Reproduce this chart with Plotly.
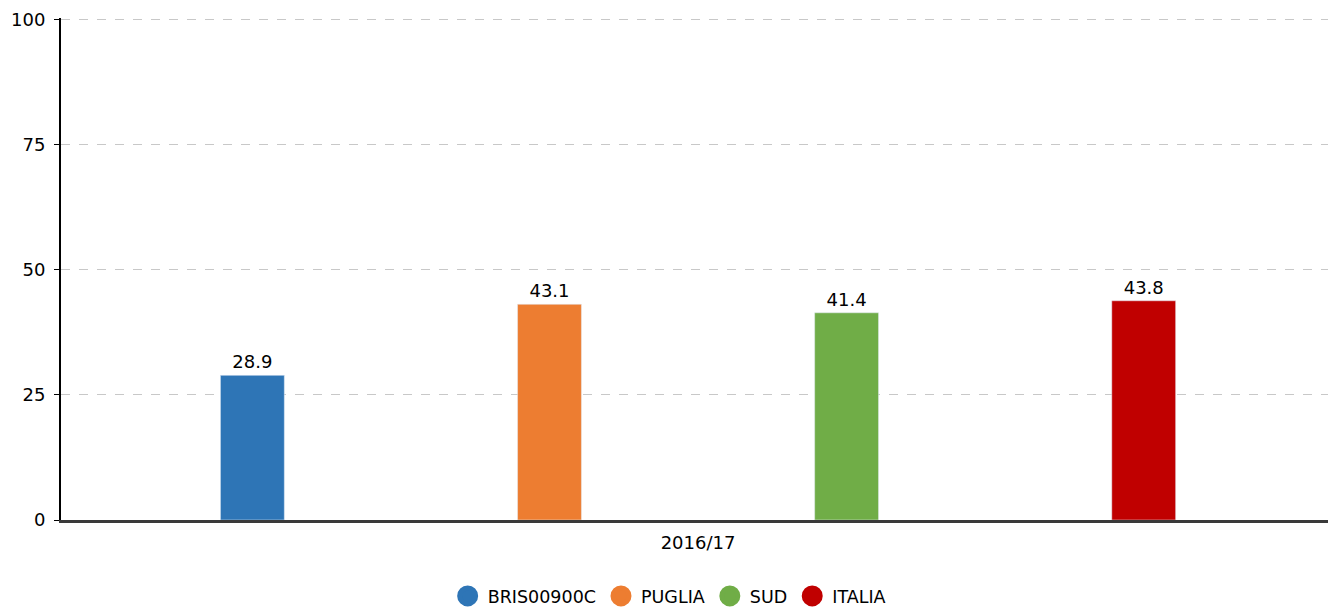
import plotly.graph_objects as go

categories = ["2016/17"]
series_names = ["BRIS00900C", "PUGLIA", "SUD", "ITALIA"]
series_values = [[28.9], [43.1], [41.4], [43.8]]
series_colors = ["#2e75b6", "#ed7d31", "#70ad47", "#c00000"]
y_ticks = [0, 25, 50, 75, 100]

fig = go.Figure()
for name, vals, col in zip(series_names, series_values, series_colors):
    fig.add_trace(go.Bar(
        x=categories, y=vals, name=name, marker_color=col,
        text=[f"{v:.1f}" for v in vals], textposition="outside",
        textfont=dict(size=18, color="#000000"), cliponaxis=False,
        showlegend=False,
    ))
    fig.add_trace(go.Scatter(
        x=[None], y=[None], mode="markers", name=name,
        marker=dict(symbol="circle", size=16, color=col,
                    line=dict(color=col, width=5)),
        showlegend=True,
    ))

fig.update_layout(
    width=1328, height=610,
    margin=dict(l=61, r=0, t=18, b=89.5, autoexpand=False),
    paper_bgcolor="white", plot_bgcolor="white",
    font=dict(family="DejaVu Sans", size=18, color="#000000"),
    barmode="group", bargap=0.062, bargroupgap=0.785,
    legend=dict(orientation="h", x=0.48, xanchor="center", y=-0.1156, yanchor="top",
                font=dict(size=17.5), traceorder="normal"),
    xaxis=dict(range=[-0.5028, 0.4972], showline=True, linecolor="#3a3a3a", linewidth=3,
               showgrid=False, ticks="", tickfont=dict(size=18), zeroline=False,
               automargin=False, ticklabelstandoff=4),
    yaxis=dict(range=[0, 100.3], tickvals=y_ticks, showline=True, linecolor="#000000",
               linewidth=2, ticks="outside", ticklen=5, tickcolor="#000000",
               showgrid=True, gridcolor="#c8c8c8", griddash="dash", gridwidth=1,
               zeroline=False, tickfont=dict(size=18), automargin=False,
               ticklabelstandoff=5),
)

fig.write_html("out.html", config={"displayModeBar": False},
               post_script="document.body.style.margin='0px';")
